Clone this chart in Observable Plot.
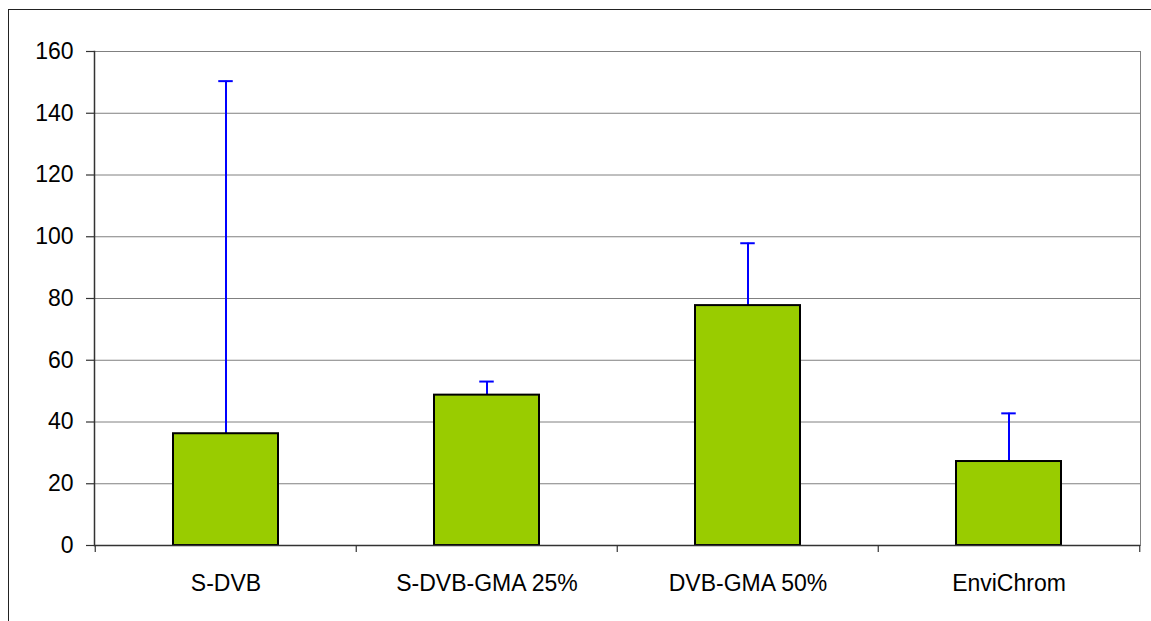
<!DOCTYPE html>
<html>
<head>
<meta charset="utf-8">
<script src="https://cdn.jsdelivr.net/npm/d3@7"></script>
<script src="https://cdn.jsdelivr.net/npm/@observablehq/plot@0.6"></script>
<style>
  html, body { margin: 0; padding: 0; background: #fff; overflow: hidden; }
  #wrap { position: relative; width: 1151px; height: 621px; }
  #frame { position: absolute; left: 8px; top: 9px; width: 1300px; height: 800px; border: 1px solid #222; box-sizing: border-box; }
  #chart { position: absolute; left: 0; top: 0; }
</style>
</head>
<body>
<div id="wrap">
  <div id="frame"></div>
  <div id="chart"></div>
</div>
<script>
const categories = ["S-DVB", "S-DVB-GMA 25%", "DVB-GMA 50%", "EnviChrom"];
const values = [36.2, 48.7, 77.7, 27.2];
const upperErrors = [150.4, 53.1, 97.9, 42.8];
const yTicks = [0, 20, 40, 60, 80, 100, 120, 140, 160];

const data = categories.map((c, i) => ({cat: c, value: values[i], upper: upperErrors[i]}));

const W = 1151, H = 621;
const mL = 94, mR = 11, mT = 51, mB = 76;
const step = (W - mL - mR) / categories.length;
const pxPerUnit = (H - mT - mB) / 160;
const tickLen = 7 / pxPerUnit;
const barInset = 78;
const capInset = (step - 15) / 2;
const font = "'Liberation Sans', Arial, sans-serif";

const chart = Plot.plot({
  width: W,
  height: H,
  marginLeft: mL,
  marginRight: mR,
  marginTop: mT,
  marginBottom: mB,
  style: {fontFamily: font, fontSize: "23px", color: "#000", background: "transparent"},
  x: {domain: categories, padding: 0, label: null},
  y: {domain: [0, 160], label: null},
  marks: [
    Plot.frame({stroke: "#808080", strokeWidth: 1}),
    Plot.ruleY(yTicks, {stroke: "#808080", strokeWidth: 1}),
    Plot.axisY({ticks: yTicks, tickSize: 8, tickPadding: 13, stroke: "#333", strokeWidth: 1.2, strokeOpacity: 1, label: null, fontSize: 23}),
    Plot.axisX({tickSize: 0, tickPadding: 29, label: null, fontSize: 23}),
    Plot.ruleX(data, {x: "cat", y1: "value", y2: "upper", stroke: "#0000ff", strokeWidth: 2}),
    Plot.tickY(data, {x: "cat", y: "upper", stroke: "#0000ff", strokeWidth: 2, insetLeft: capInset, insetRight: capInset}),
    Plot.barY(data, {x: "cat", y: "value", fill: "#99cc00", stroke: "#000", strokeWidth: 2, insetLeft: barInset, insetRight: barInset}),
    Plot.ruleY([0], {stroke: "#333", strokeWidth: 1.5}),
    Plot.frame({anchor: "left", stroke: "#333", strokeWidth: 1.5}),
    Plot.ruleX(categories, {x: d => d, dx: -step / 2, y1: 0, y2: -tickLen, stroke: "#333", strokeWidth: 1.2}),
    Plot.ruleX(categories.slice(-1), {x: d => d, dx: step / 2, y1: 0, y2: -tickLen, stroke: "#333", strokeWidth: 1.2})
  ]
});
document.getElementById("chart").appendChild(chart);
</script>
</body>
</html>
